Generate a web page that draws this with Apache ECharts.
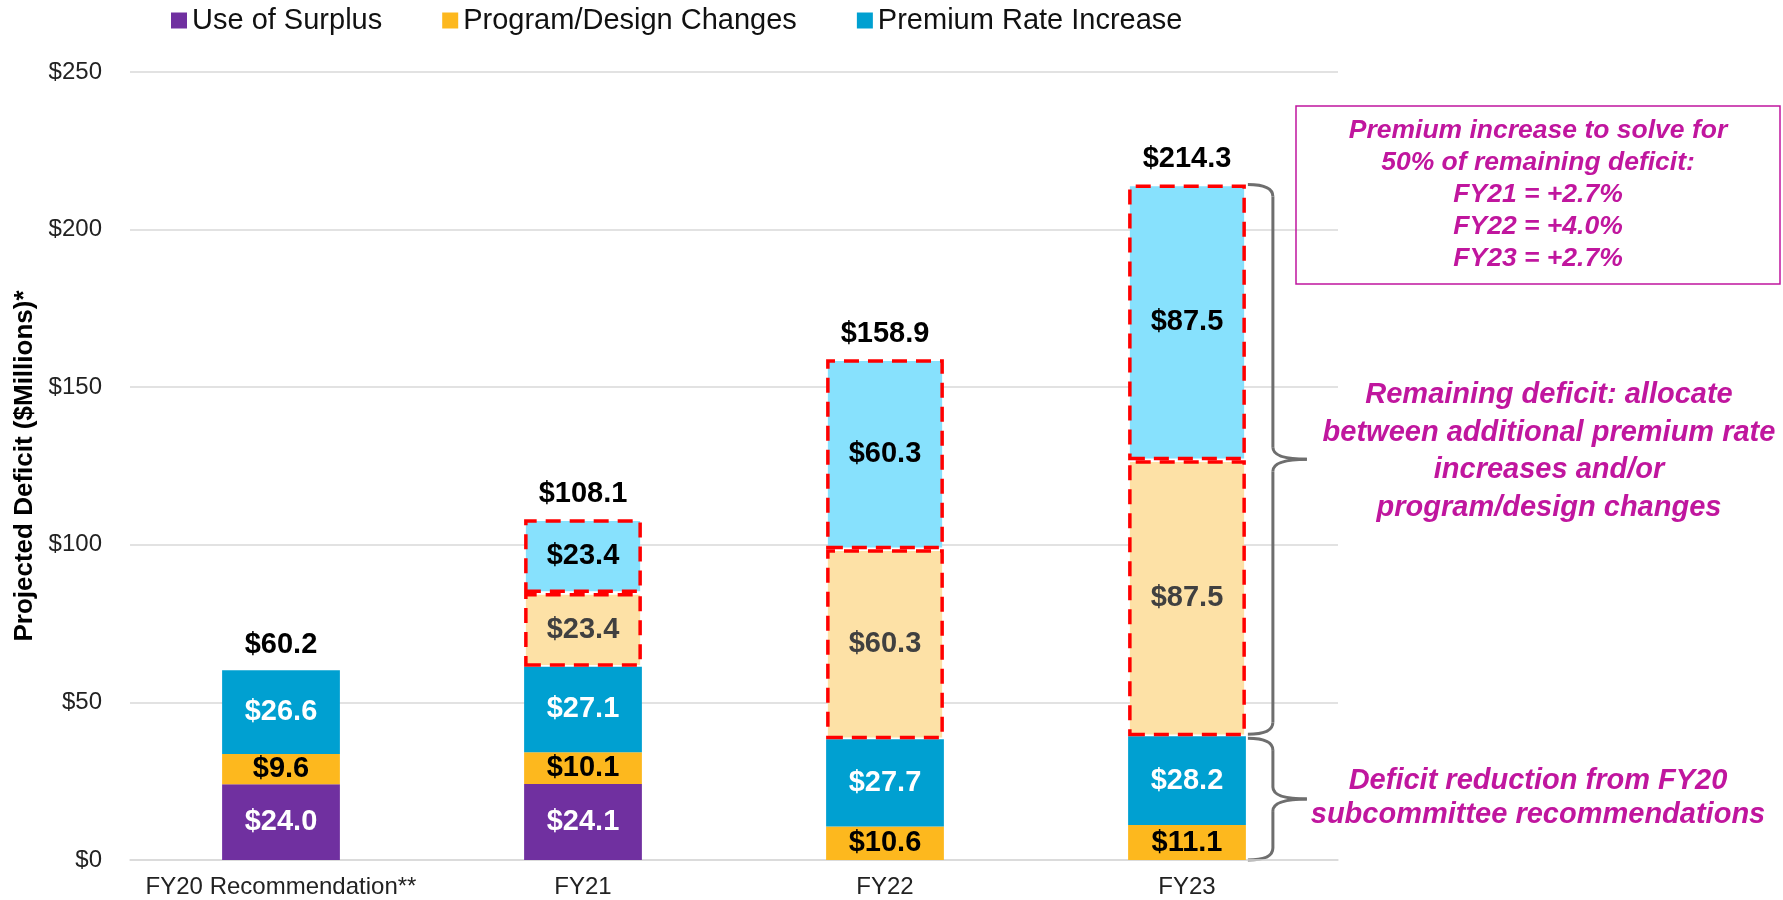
<!DOCTYPE html>
<html>
<head>
<meta charset="utf-8">
<script src="https://cdn.jsdelivr.net/npm/echarts@6/dist/echarts.min.js"></script>
<style>
  html, body { margin: 0; padding: 0; background: #fff; }
  #chart { width: 1783px; height: 900px; }
</style>
</head>
<body>
<div id="chart"></div>
<script>
// data ($ millions)
var categories = ['FY20 Recommendation**', 'FY21', 'FY22', 'FY23'];
var surplus = [24.0, 24.1, null, null];
var program = [9.6, 10.1, 10.6, 11.1];
var premium = [26.6, 27.1, 27.7, 28.2];
var remainingProgram = [null, 23.4, 60.3, 87.5];
var remainingPremium = [null, 23.4, 60.3, 87.5];
var totals = [60.2, 108.1, 158.9, 214.3];

var boxLines = ['Premium increase to solve for', '50% of remaining deficit:', 'FY21 = +2.7%', 'FY22 = +4.0%', 'FY23 = +2.7%'];
var remainingNote = ['Remaining deficit: allocate', 'between additional premium rate', 'increases and/or', 'program/design changes'];
var reductionNote = ['Deficit reduction from FY20', 'subcommittee recommendations'];

var FONT = 'Liberation Sans, Arial, sans-serif';
var MAGENTA = '#C0169E';
var BAR_W = 0.39;

function money(p) { return '$' + p.value.toFixed(1); }

function seg(name, data, color, labelColor, dashed) {
  var s = {
    name: name,
    type: 'bar',
    stack: 'total',
    barWidth: (BAR_W * 100) + '%',
    data: data,
    itemStyle: { color: color },
    label: {
      show: true,
      position: 'inside',
      formatter: money,
      color: labelColor,
      fontFamily: FONT,
      fontWeight: 'bold',
      fontSize: 29
    }
  };
  if (dashed) {
    s.itemStyle.borderColor = '#FF0000';
    s.itemStyle.borderWidth = 3.5;
    s.itemStyle.borderType = [15, 9];
  }
  return s;
}

var chart = echarts.init(document.getElementById('chart'));
chart.setOption({
  animation: false,
  backgroundColor: '#fff',
  grid: { left: 130, right: 445, top: 72, bottom: 40 },
  legend: {
    data: ['Use of Surplus', 'Program/Design Changes', 'Premium Rate Increase'],
    left: 171,
    top: 6,
    padding: 0,
    icon: 'rect',
    itemWidth: 16,
    itemHeight: 16,
    itemGap: 60,
    textStyle: { fontFamily: FONT, fontSize: 29, color: '#111' }
  },
  xAxis: {
    type: 'category',
    data: categories,
    axisTick: { show: false },
    axisLine: { lineStyle: { color: '#D9D9D9', width: 1.5 } },
    axisLabel: { interval: 0, fontFamily: FONT, fontSize: 24, color: '#222', margin: 15 }
  },
  yAxis: {
    type: 'value',
    min: 0,
    max: 250,
    interval: 50,
    name: 'Projected Deficit ($Millions)*',
    nameLocation: 'middle',
    nameGap: 90,
    nameTextStyle: { fontFamily: FONT, fontSize: 26, fontWeight: 'bold', color: '#000' },
    axisLabel: {
      formatter: function (v) { return '$' + v; },
      fontFamily: FONT, fontSize: 24, color: '#222', margin: 28
    },
    splitLine: { lineStyle: { color: '#D9D9D9', width: 1.5 } }
  },
  series: [
    seg('Use of Surplus', surplus, '#7030A0', '#fff', false),
    seg('Program/Design Changes', program, '#FDB81E', '#000', false),
    seg('Premium Rate Increase', premium, '#00A0D1', '#fff', false),
    seg('Remaining Program', remainingProgram, '#FDE1A6', '#404040', true),
    seg('Remaining Premium', remainingPremium, '#87E1FD', '#000', true),
    {
      name: 'Total',
      type: 'scatter',
      data: totals,
      symbolSize: 0,
      silent: true,
      z: 10,
      itemStyle: { opacity: 1 },
      label: {
        show: true,
        position: 'top',
        distance: 11,
        formatter: money,
        color: '#000',
        opacity: 1,
        fontFamily: FONT,
        fontWeight: 'bold',
        fontSize: 29
      }
    }
  ]
});

// braces and notes, placed from the axes
function px(i, v) { return chart.convertToPixel({ gridIndex: 0 }, [i, v]); }

var last = categories.length - 1;
var band = px(1, 0)[0] - px(0, 0)[0];
var right = px(last, 0)[0] + BAR_W * band / 2;
var baseTop = program[last] + premium[last];
var yTop = px(last, totals[last])[1];
var yMid = px(last, baseTop)[1];
var yBot = px(last, 0)[1];

var braceStyle = { fill: 'none', stroke: '#6E6E6E', lineWidth: 3 };

// a curly brace from top to bot, built from curves and lines
function brace(top, bot) {
  var x0 = right + 2, xs = right + 27, xt = right + 61, r = 12;
  var mid = (top + bot) / 2;
  var curve = function (x1, y1, cx, cy, x2, y2) {
    return { type: 'bezierCurve', shape: { x1: x1, y1: y1, cpx1: cx, cpy1: cy, x2: x2, y2: y2 }, style: braceStyle };
  };
  var line = function (x1, y1, x2, y2) {
    return { type: 'line', shape: { x1: x1, y1: y1, x2: x2, y2: y2 }, style: braceStyle };
  };
  return {
    type: 'group',
    children: [
      curve(x0, top, xs, top, xs, top + r),
      line(xs, top + r, xs, mid - r),
      curve(xs, mid - r, xs, mid, xt, mid),
      curve(xt, mid, xs, mid, xs, mid + r),
      line(xs, mid + r, xs, bot - r),
      curve(xs, bot - r, xs, bot, x0, bot)
    ]
  };
}

function note(lines, x, y, size, lh) {
  return {
    type: 'text',
    x: x, y: y,
    style: {
      text: lines.join('\n'),
      font: 'italic bold ' + size + 'px ' + FONT,
      fill: MAGENTA,
      align: 'center', textAlign: 'center',
      verticalAlign: 'middle', textVerticalAlign: 'middle',
      lineHeight: lh
    }
  };
}

chart.setOption({
  graphic: [
    brace(yTop, yMid - 2),
    brace(yMid + 2, yBot),
    { type: 'rect', shape: { x: 1296, y: 106, width: 484, height: 178 }, style: { fill: 'none', stroke: MAGENTA, lineWidth: 1.5 } },
    note(boxLines, 1538, 195, 26.5, 32),
    note(remainingNote, 1549, (yTop + yMid) / 2 - 9, 29, 37.5),
    note(reductionNote, 1538, (yMid + yBot) / 2, 29, 34)
  ]
});
</script>
</body>
</html>
